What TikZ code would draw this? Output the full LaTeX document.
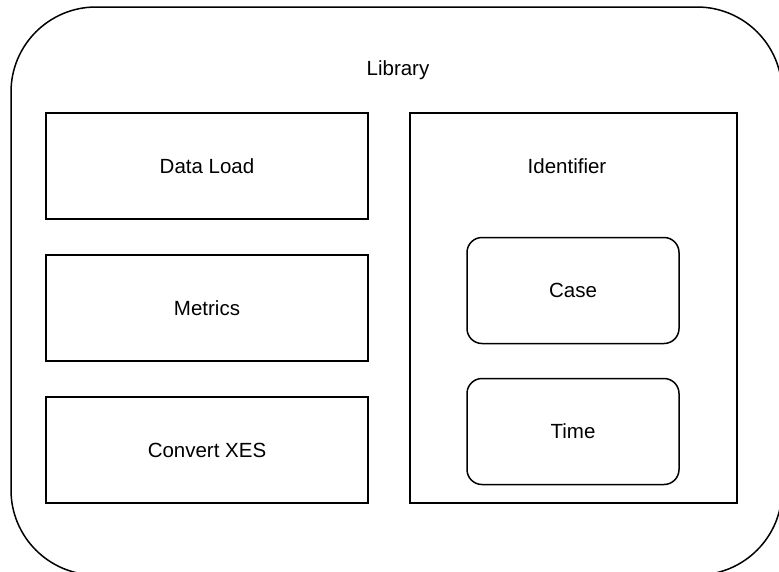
\documentclass[tikz,border=0pt]{standalone}
\usepackage{fontspec}
\setmainfont{Liberation Sans}
\begin{document}
\begin{tikzpicture}[x=1pt,y=-1pt,
  box/.style={draw=black,line width=1.5pt,minimum width=322pt,minimum height=106pt,inner sep=0pt,font=\fontsize{20.5}{23}\selectfont},
  rbox/.style={draw=black,line width=1.5pt,rounded corners=15pt,minimum width=212pt,minimum height=106pt,inner sep=0pt,font=\fontsize{20.5}{23}\selectfont},
  lbl/.style={inner sep=0pt,font=\fontsize{20.5}{23}\selectfont}]
\useasboundingbox (0,0) rectangle (779,571);
\clip (0,0) rectangle (779,571);
\fill[white] (0,0) rectangle (779,571);
\draw[line width=1.5pt,rounded corners=85pt] (11,7) rectangle (782,575);
\node[lbl] (library) at (398,70) {Library};
\node[box] (dataload) at (207,166) {Data Load};
\node[box] (metrics) at (207,308) {Metrics};
\node[box] (convert) at (207,450) {Convert XES};
\node[box,minimum width=327pt,minimum height=390pt] (identifier) at (573.5,308) {};
\node[lbl] (identlabel) at (567,166) {Identifier};
\node[rbox] (case) at (573,290.5) {Case};
\node[rbox] (time) at (573,431.5) {Time};
\end{tikzpicture}
\end{document}
